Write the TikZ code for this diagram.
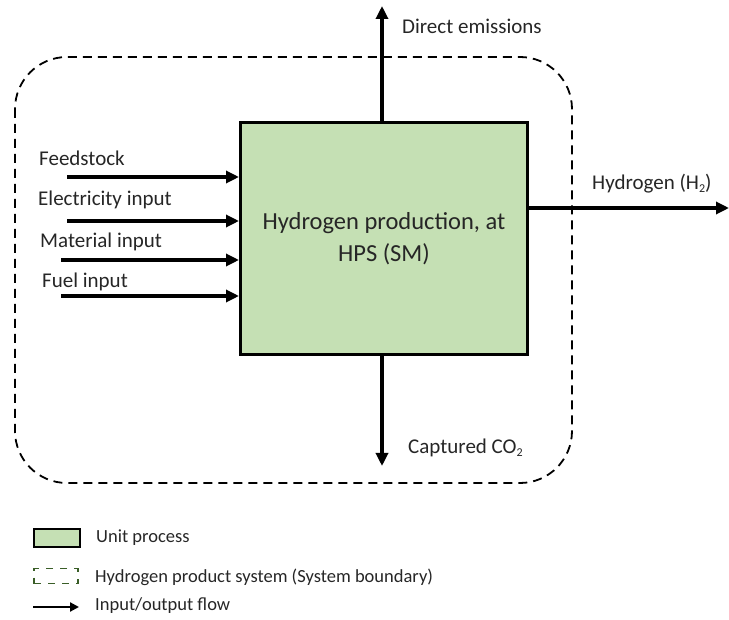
\documentclass[tikz,border=0pt]{standalone}
\usepackage{fontspec}
\setmainfont{Carlito}
\usetikzlibrary{arrows.meta}
\definecolor{procgreen}{HTML}{C5E0B4}
\definecolor{legdash}{HTML}{3A5E28}
\definecolor{txt}{HTML}{262626}
\newcommand{\mysub}[1]{\raisebox{-0.25ex}{\fontsize{12}{12}\selectfont #1}}
\begin{document}
\begin{tikzpicture}[x=1pt,y=-1pt,
  flow/.style={line width=3.2pt,-{Triangle[length=13pt,width=12pt]}},
  lbl/.style={anchor=west,inner sep=0pt,text=txt,font=\fontsize{21}{24}\selectfont},
  leg/.style={anchor=west,inner sep=0pt,text=txt,font=\fontsize{18.5}{21}\selectfont}]
\useasboundingbox (0,0) rectangle (729,620);
% system boundary
\draw[line width=1.8pt,dash pattern=on 9pt off 6pt,rounded corners=52pt] (15,57) rectangle (572,483);
% process box
\node[draw,line width=3pt,fill=procgreen,minimum width=287pt,minimum height=232pt,anchor=north west,inner sep=0pt,
  align=center,text=txt,font=\fontsize{24.5}{32}\selectfont] (P) at (239,121) {Hydrogen production, at\\HPS (SM)};
% coordinates
\coordinate (top) at (382,6);
\coordinate (bot) at (382,466);
\coordinate (right) at (729,208);
\coordinate (f1) at (67,177);
\coordinate (f2) at (67,221);
\coordinate (f3) at (61,260);
\coordinate (f4) at (61,296);
% flows
\draw[flow] (P.north -| top) -- (top);
\draw[flow] (P.south -| bot) -- (bot);
\draw[flow] (P.east |- right) -- (right);
\draw[flow] (f1) -- (f1 -| P.west);
\draw[flow] (f2) -- (f2 -| P.west);
\draw[flow] (f3) -- (f3 -| P.west);
\draw[flow] (f4) -- (f4 -| P.west);
% labels
\node[lbl] (Ldir) at (402,26) {Direct emissions};
\node[lbl] (Lcap) at (408,448) {Captured CO\mysub{2}};
\node[lbl] (Lh2) at (592,184) {Hydrogen (H\mysub{2})};
\node[lbl] (L1) at (39,158) {Feedstock};
\node[lbl] (L2) at (38,200) {Electricity input};
\node[lbl] (L3) at (40,242) {Material input};
\node[lbl] (L4) at (42,282) {Fuel input};
% legend
\node[draw,line width=2.2pt,fill=procgreen,minimum width=46pt,minimum height=18pt,inner sep=0pt] (G1) at (57,538) {};
\node[leg] (T1) at (96,538) {Unit process};
\node[draw=legdash,dash pattern=on 7pt off 7pt,line width=1.6pt,minimum width=44pt,minimum height=15pt,inner sep=0pt] (G2) at (56,576) {};
\node[leg] (T2) at (95,577) {Hydrogen product system (System boundary)};
\coordinate (a1) at (33,607);
\coordinate (a2) at (79,607);
\draw[line width=2.2pt,-{Triangle[length=9pt,width=9pt]}] (a1) -- (a2);
\node[leg] (T3) at (95,606) {Input/output flow};
\end{tikzpicture}
\end{document}
